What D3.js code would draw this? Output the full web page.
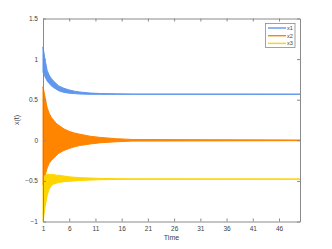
<!DOCTYPE html>
<html>
<head>
<meta charset="utf-8">
<script src="https://cdn.jsdelivr.net/npm/d3@7"></script>
<style>
	body { margin: 0; background: #fff; }
	svg { display: block; }
</style>
</head>
<body>
<svg id="chart"></svg>
<script>
// envelope sample times and upper/lower envelope of each oscillating state
const times = [1, 1.4, 1.8, 2.2, 2.6, 3, 3.5, 4, 5, 6, 7, 8, 10, 12, 15, 18, 50];
const x1Upper = [1.15, 0.99, 0.86, 0.8, 0.76, 0.73, 0.7, 0.67, 0.64, 0.62, 0.605, 0.595, 0.582, 0.576, 0.572, 0.57, 0.569];
const x1Lower = [0.84, 0.78, 0.73, 0.7, 0.67, 0.65, 0.63, 0.61, 0.59, 0.58, 0.575, 0.57, 0.566, 0.566, 0.566, 0.566, 0.566];
const x2Upper = [0.66, 0.53, 0.4, 0.33, 0.28, 0.25, 0.21, 0.185, 0.14, 0.11, 0.09, 0.075, 0.05, 0.035, 0.02, 0.01, 0.004];
const x2Lower = [-0.55, -0.43, -0.34, -0.28, -0.25, -0.22, -0.19, -0.16, -0.125, -0.1, -0.08, -0.065, -0.045, -0.03, -0.018, -0.01, -0.004];
const x3Upper = [-0.5, -0.43, -0.42, -0.42, -0.42, -0.42, -0.43, -0.43, -0.44, -0.45, -0.455, -0.46, -0.465, -0.47, -0.472, -0.475, -0.476];
const x3Lower = [-1.0, -0.82, -0.68, -0.6, -0.56, -0.54, -0.53, -0.52, -0.51, -0.505, -0.5, -0.495, -0.49, -0.485, -0.482, -0.48, -0.48];

const seriesNames = ['x1', 'x2', 'x3'];
const colors = ['#5f97ef', '#ff8400', '#ffd500'];
const xTicks = [1, 6, 11, 16, 21, 26, 31, 36, 41, 46];
const yTicks = [-1, -0.5, 0, 0.5, 1, 1.5];

const width = 332;
const height = 249;
const marginTop = 18.5;
const marginRight = 32;
const marginBottom = 27.5;
const marginLeft = 43;

const svg = d3.select('#chart')
	.attr('width', width)
	.attr('height', height)
	.style('font-family', '"Liberation Sans", Arial, sans-serif');

const x = d3.scaleLinear()
	.domain([1, 50])
	.range([marginLeft, width - marginRight]);

const y = d3.scaleLinear()
	.domain([-1, 1.5])
	.range([height - marginBottom, marginTop]);

const series = [
	{ name: 'x1', upper: x1Upper, lower: x1Lower },
	{ name: 'x2', upper: x2Upper, lower: x2Lower },
	{ name: 'x3', upper: x3Upper, lower: x3Lower },
];

const area = d3.area()
	.x((d) => x(d.t))
	.y0((d) => y(d.lo))
	.y1((d) => y(d.hi));

// draw each band
series.forEach((s, i) => {
	const pts = times.map((t, j) => ({ t: t, hi: s.upper[j], lo: s.lower[j] }));
	svg.append('path')
		.datum(pts)
		.attr('d', area)
		.attr('fill', colors[i])
		.attr('stroke', colors[i])
		.attr('stroke-width', 1)
		.attr('stroke-linejoin', 'round');
});

// axes, MATLAB style with inward ticks on all four sides
const axisColor = '#8a8a8a';
const labelColor = '#404040';
const fontSize = 6.5;

const styleAxis = (g) => {
	g.select('.domain').attr('stroke', axisColor);
	g.selectAll('.tick line').attr('stroke', axisColor);
	g.selectAll('.tick text').attr('fill', labelColor).style('font-size', fontSize + 'px');
};

svg.append('g')
	.attr('transform', `translate(0,${height - marginBottom})`)
	.call(d3.axisBottom(x).tickValues(xTicks).tickSizeInner(-3).tickSizeOuter(0).tickPadding(5))
	.call(styleAxis);

svg.append('g')
	.attr('transform', `translate(0,${marginTop})`)
	.call(d3.axisTop(x).tickValues(xTicks).tickSizeInner(-3).tickSizeOuter(0).tickFormat(''))
	.call(styleAxis);

svg.append('g')
	.attr('transform', `translate(${marginLeft},0)`)
	.call(d3.axisLeft(y).tickValues(yTicks).tickSizeInner(-3).tickSizeOuter(0).tickPadding(5).tickFormat(d3.format('')))
	.call(styleAxis);

svg.append('g')
	.attr('transform', `translate(${width - marginRight},0)`)
	.call(d3.axisRight(y).tickValues(yTicks).tickSizeInner(-3).tickSizeOuter(0).tickFormat(''))
	.call(styleAxis);

// axis titles
svg.append('text')
	.attr('x', (marginLeft + width - marginRight) / 2)
	.attr('y', height - 9)
	.attr('text-anchor', 'middle')
	.attr('fill', labelColor)
	.style('font-size', '7px')
	.text('Time');

svg.append('text')
	.attr('transform', `translate(19,${(marginTop + height - marginBottom) / 2}) rotate(-90)`)
	.attr('text-anchor', 'middle')
	.attr('fill', labelColor)
	.style('font-size', '7px')
	.text('x(t)');

// legend
const legend = svg.append('g').attr('transform', 'translate(265.5,23.5)');
legend.append('rect')
	.attr('width', 29.5)
	.attr('height', 24)
	.attr('fill', '#fff')
	.attr('stroke', axisColor)
	.attr('stroke-width', 0.8);

seriesNames.forEach((name, i) => {
	const ly = 4.5 + i * 7.7;
	legend.append('line')
		.attr('x1', 2.5)
		.attr('x2', 20.5)
		.attr('y1', ly)
		.attr('y2', ly)
		.attr('stroke', colors[i])
		.attr('stroke-width', 1.4);
	legend.append('text')
		.attr('x', 21.5)
		.attr('y', ly)
		.attr('dy', '0.35em')
		.attr('fill', labelColor)
		.style('font-size', '5.5px')
		.text(name);
});
</script>
</body>
</html>
